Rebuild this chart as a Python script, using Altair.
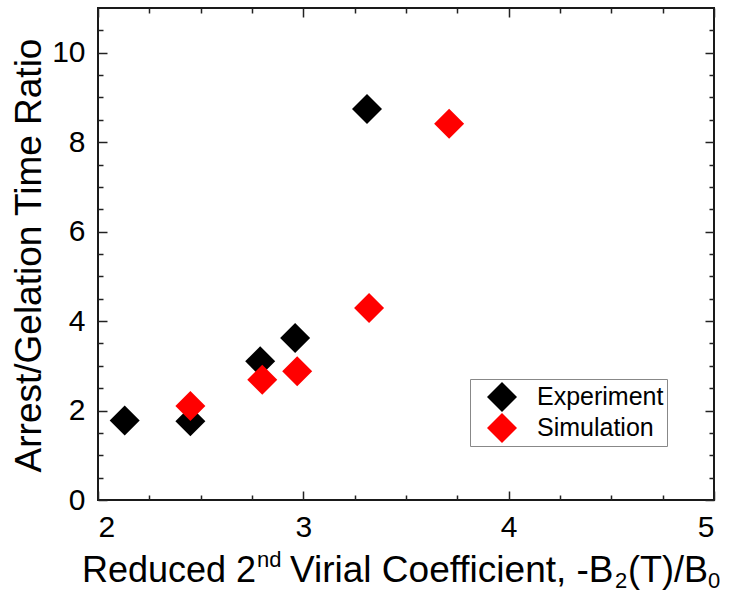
import altair as alt
import pandas as pd

# ---- data ----
exp_x = [2.13, 2.45, 2.79, 2.96, 3.31]
exp_y = [1.78, 1.76, 3.10, 3.62, 8.74]
sim_x = [2.45, 2.80, 2.97, 3.32, 3.71]
sim_y = [2.10, 2.69, 2.88, 4.29, 8.41]
series_names = ["Experiment", "Simulation"]
series_colors = ["#000000", "#ff0000"]

x_major = [2, 3, 4, 5]
x_minor = [2.25, 2.5, 2.75, 3.25, 3.5, 3.75, 4.25, 4.5, 4.75]
y_major = [0, 2, 4, 6, 8, 10]
y_minor = [0.5, 1, 1.5, 2.5, 3, 3.5, 4.5, 5, 5.5, 6.5, 7, 7.5, 8.5, 9, 9.5, 10.5]

y_title = "Arrest/Gelation Time Ratio"
x_title_parts = ["Reduced 2", "nd", "Virial Coefficient, -B", "2", "(T)/B", "0"]

FONT = "Liberation Sans"

df = pd.DataFrame({
    "x": exp_x + sim_x,
    "y": exp_y + sim_y,
    "series": [series_names[0]] * len(exp_x) + [series_names[1]] * len(sim_x),
})

xs = alt.Scale(domain=[2, 5], nice=False, zero=False)
ys = alt.Scale(domain=[0, 11], nice=False, zero=False)

common = dict(domain=False, tickColor="#222222", tickWidth=1.5, grid=False)


def axis_pair(xaxis, yaxis, legend=False):
    enc = dict(
        x=alt.X("x:Q", scale=xs, axis=xaxis),
        y=alt.Y("y:Q", scale=ys, axis=yaxis),
    )
    if legend:
        enc["color"] = alt.Color(
            "series:N",
            scale=alt.Scale(domain=series_names, range=series_colors),
            legend=alt.Legend(
                title=None, orient="none", legendX=372, legendY=371,
                strokeColor="#888888", padding=3, symbolOffset=14,
                symbolType="diamond", symbolSize=900, symbolStrokeWidth=0,
                labelFontSize=25, labelFont=FONT, labelColor="#000000",
                labelOffset=20, rowPadding=1, fillColor="#ffffff",
            ),
        )
        enc["order"] = alt.Order("series:N")
    return alt.Chart(df).mark_point(
        shape="diamond", filled=True, size=900, opacity=1 if legend else 0,
        strokeWidth=0,
    ).encode(**enc)


main = axis_pair(
    alt.Axis(orient="bottom", values=x_major, tickSize=9, offset=-9,
             labelFontSize=30, labelFont=FONT, labelColor="#000000",
             labelPadding=12, title=None, **common),
    alt.Axis(orient="left", values=y_major, tickSize=9, offset=-9,
             labelFontSize=30, labelFont=FONT, labelColor="#000000",
             labelPadding=13, title=y_title, titleFont=FONT,
             titleFontSize=37, titleFontWeight="normal", titleColor="#000000",
             titleAngle=270, titleBaseline="alphabetic", titleAlign="center",
             titleX=-67, titleY=247, **common),
    legend=True,
)
minor1 = axis_pair(
    alt.Axis(orient="bottom", values=x_minor, tickSize=5, offset=-5,
             labels=False, title=None, **common),
    alt.Axis(orient="left", values=y_minor, tickSize=5, offset=-5,
             labels=False, title=None, **common),
)
major2 = axis_pair(
    alt.Axis(orient="top", values=x_major, tickSize=9, offset=-9,
             labels=False, title=None, **common),
    alt.Axis(orient="right", values=y_major, tickSize=9, offset=-9,
             labels=False, title=None, **common),
)
minor2 = axis_pair(
    alt.Axis(orient="top", values=x_minor, tickSize=5, offset=-5,
             labels=False, title=None, **common),
    alt.Axis(orient="right", values=y_minor, tickSize=5, offset=-5,
             labels=False, title=None, **common),
)

one = pd.DataFrame({"k": [0]})
# (text, left x, baseline y, font size) relative to plot origin
title_layout = [
    (x_title_parts[0], -16, 574, 36),
    (x_title_parts[1], 159, 559, 22),
    (x_title_parts[2], 192, 574, 37),
    (x_title_parts[3], 517, 580, 22),
    (x_title_parts[4], 530, 574, 36),
    (x_title_parts[5], 610, 580, 22),
]
title_layers = [
    alt.Chart(one).mark_text(
        text=t, align="left", baseline="alphabetic", fontSize=s,
        font=FONT, color="#000000",
    ).encode(x=alt.value(px), y=alt.value(py))
    for (t, px, py, s) in title_layout
]

chart = alt.layer(minor1, major2, minor2, main, *title_layers).resolve_axis(
    x="independent", y="independent"
).properties(
    width=616, height=492,
    background="#ffffff",
    autosize=alt.AutoSizeParams(type="none"),
    padding={"left": 98, "top": 8, "right": 19, "bottom": 92},
).configure_view(
    stroke="#1a1a1a", strokeWidth=2
)

chart.save("out.html", embed_options={"renderer": "svg", "actions": False})
